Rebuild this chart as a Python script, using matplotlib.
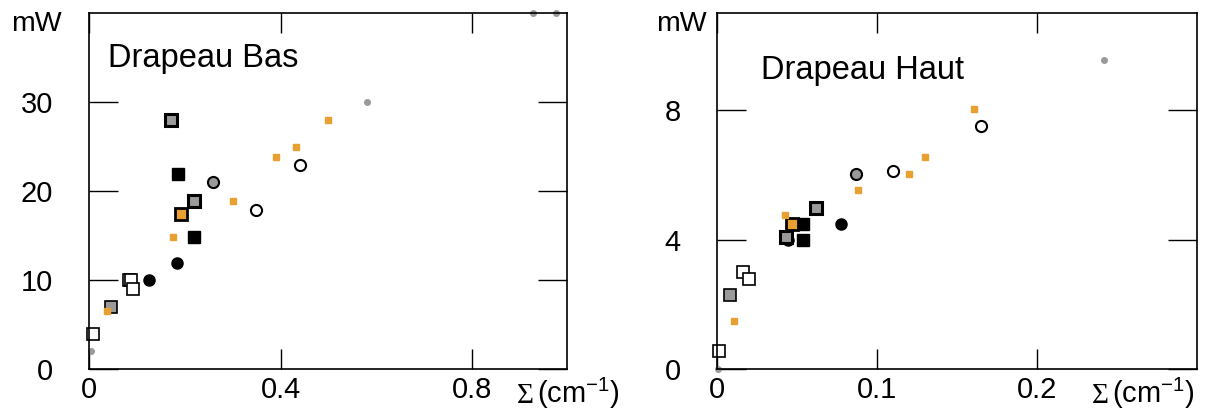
import numpy as np
import matplotlib.pyplot as plt
from matplotlib import transforms

plt.rcParams['font.family'] = ['Liberation Sans', 'DejaVu Sans']
plt.rcParams['mathtext.fontset'] = 'custom'
plt.rcParams['mathtext.rm'] = 'Liberation Sans'
plt.rcParams['mathtext.default'] = 'regular'

ORANGE = '#E8A030'
GRAY = '#9a9a9a'

# ---- Drapeau Bas (left panel) ----
bas_gray_dot_x = [0.928, 0.977, 0.581, 0.003]
bas_gray_dot_y = [40.0, 40.0, 30.0, 2.1]
bas_orange_x = [0.50, 0.432, 0.391, 0.30, 0.175, 0.037]
bas_orange_y = [28.0, 25.0, 23.9, 18.9, 14.9, 6.5]
bas_open_circle_x = [0.44, 0.348]
bas_open_circle_y = [23.0, 17.9]
bas_gray_circle_x = [0.258]
bas_gray_circle_y = [21.0]
bas_gray_square_x = [0.171, 0.22]
bas_gray_square_y = [28.0, 18.9]
bas_black_square_x = [0.186, 0.22]
bas_black_square_y = [22.0, 14.9]
bas_orange_box_x = [0.192]
bas_orange_box_y = [17.4]
bas_black_circle_x = [0.183, 0.125]
bas_black_circle_y = [11.9, 10.0]
bas_open_square_x = [0.082, 0.087, 0.091, 0.008]
bas_open_square_y = [10.0, 10.0, 9.0, 4.0]
bas_dot_square_x = [0.045]
bas_dot_square_y = [7.0]

# ---- Drapeau Haut (right panel) ----
haut_gray_dot_x = [0.242, 0.0005]
haut_gray_dot_y = [9.57, 0.0]
haut_orange_x = [0.161, 0.130, 0.120, 0.088, 0.0424, 0.0106]
haut_orange_y = [8.05, 6.55, 6.04, 5.53, 4.76, 1.49]
haut_open_circle_x = [0.165, 0.110]
haut_open_circle_y = [7.52, 6.14]
haut_gray_circle_x = [0.0873]
haut_gray_circle_y = [6.03]
haut_black_circle_x = [0.0776, 0.0447]
haut_black_circle_y = [4.5, 4.0]
haut_gray_square_x = [0.0623, 0.0435]
haut_gray_square_y = [5.0, 4.08]
haut_black_square_x = [0.054, 0.0538]
haut_black_square_y = [4.5, 4.0]
haut_orange_box_x = [0.0472]
haut_orange_box_y = [4.5]
haut_open_square_x = [0.0165, 0.0199, 0.0013]
haut_open_square_y = [3.0, 2.8, 0.57]
haut_dot_square_x = [0.0084]
haut_dot_square_y = [2.29]


def draw_points(ax, d):
    kw = dict(linestyle='none', clip_on=False)
    ax.plot(d['open_square'][0], d['open_square'][1], 's', ms=8, mfc='white', mec='black', mew=1.2, **kw)
    ax.plot(d['dot_square'][0], d['dot_square'][1], 's', ms=8, mfc=GRAY, mec='black', mew=1.2, **kw)
    ax.plot(d['black_circle'][0], d['black_circle'][1], 'o', ms=8, mfc='black', mec='black', **kw)
    ax.plot(d['black_square'][0], d['black_square'][1], 's', ms=8.5, mfc='black', mec='black', **kw)
    ax.plot(d['gray_square'][0], d['gray_square'][1], 's', ms=8.5, mfc=GRAY, mec='black', mew=2.2, **kw)
    ax.plot(d['orange_box'][0], d['orange_box'][1], 's', ms=8.5, mfc=ORANGE, mec='black', mew=2.0, **kw)
    ax.plot(d['gray_circle'][0], d['gray_circle'][1], 'o', ms=8, mfc=GRAY, mec='black', mew=1.5, **kw)
    ax.plot(d['open_circle'][0], d['open_circle'][1], 'o', ms=8, mfc='white', mec='black', mew=1.5, **kw)
    ax.plot(d['orange'][0], d['orange'][1], 's', ms=4.5, mfc=ORANGE, mec=ORANGE, **kw)
    ax.plot(d['gray_dot'][0], d['gray_dot'][1], 'o', ms=4, mfc=GRAY, mec=GRAY, **kw)


def style_axes(ax, xticks, xlabels, yticks, ylabels, xmax, ymax, sigma_x):
    ax.set_xlim(0, xmax)
    ax.set_ylim(0, ymax)
    ax.set_xticks(xticks)
    ax.set_xticklabels(xlabels)
    ax.set_yticks(yticks)
    ax.set_yticklabels(ylabels)
    ax.tick_params(axis='x', direction='in', length=14.5, width=1.0, top=True,
                   labelsize=21, pad=5)
    ax.tick_params(axis='y', direction='in', length=21, width=1.0, right=True,
                   labelsize=21, pad=26)
    for s in ax.spines.values():
        s.set_linewidth(1.2)
    # axis label "Σ (cm-1)" sitting on the tick label baseline
    base_y = -0.094
    ax.text(sigma_x, base_y, '\u03a3', transform=ax.transAxes, ha='left', va='baseline',
            fontsize=21, family='Liberation Serif', clip_on=False)
    shifted = transforms.offset_copy(ax.transAxes, fig=ax.figure, x=20, y=0, units='dots')
    ax.text(sigma_x, base_y, '(cm$^{-1}$)', transform=shifted, ha='left', va='baseline',
            fontsize=21, clip_on=False)


fig = plt.figure(figsize=(12.14, 4.12), dpi=100)
ax1 = fig.add_axes([0.0736, 0.1036, 0.3937, 0.864])
ax2 = fig.add_axes([0.5904, 0.1036, 0.3954, 0.864])

bas = dict(gray_dot=(bas_gray_dot_x, bas_gray_dot_y), orange=(bas_orange_x, bas_orange_y),
           open_circle=(bas_open_circle_x, bas_open_circle_y),
           gray_circle=(bas_gray_circle_x, bas_gray_circle_y),
           gray_square=(bas_gray_square_x, bas_gray_square_y),
           black_square=(bas_black_square_x, bas_black_square_y),
           orange_box=(bas_orange_box_x, bas_orange_box_y),
           black_circle=(bas_black_circle_x, bas_black_circle_y),
           open_square=(bas_open_square_x, bas_open_square_y),
           dot_square=(bas_dot_square_x, bas_dot_square_y))
haut = dict(gray_dot=(haut_gray_dot_x, haut_gray_dot_y), orange=(haut_orange_x, haut_orange_y),
            open_circle=(haut_open_circle_x, haut_open_circle_y),
            gray_circle=(haut_gray_circle_x, haut_gray_circle_y),
            gray_square=(haut_gray_square_x, haut_gray_square_y),
            black_square=(haut_black_square_x, haut_black_square_y),
            orange_box=(haut_orange_box_x, haut_orange_box_y),
            black_circle=(haut_black_circle_x, haut_black_circle_y),
            open_square=(haut_open_square_x, haut_open_square_y),
            dot_square=(haut_dot_square_x, haut_dot_square_y))

draw_points(ax1, bas)
draw_points(ax2, haut)

style_axes(ax1, [0, 0.4, 0.8], ['0', '0.4', '0.8'], [0, 10, 20, 30], ['0', '10', '20', '30'],
           1.0, 40, 0.895)
style_axes(ax2, [0, 0.1, 0.2], ['0', '0.1', '0.2'], [0, 4, 8], ['0', '4', '8'],
           0.3, 11, 0.782)

ax1.text(0.039, 0.85, 'Drapeau Bas', transform=ax1.transAxes, fontsize=23.5,
         va='baseline', ha='left')
ax2.text(0.092, 0.815, 'Drapeau Haut', transform=ax2.transAxes, fontsize=23.5,
         va='baseline', ha='left')

fig.text(36.5 / 1214, 1 - 24 / 412, 'mW', fontsize=20.5, ha='center', va='center')
fig.text(681 / 1214, 1 - 24 / 412, 'mW', fontsize=20.5, ha='center', va='center')

fig.savefig('out.png', dpi=100)
